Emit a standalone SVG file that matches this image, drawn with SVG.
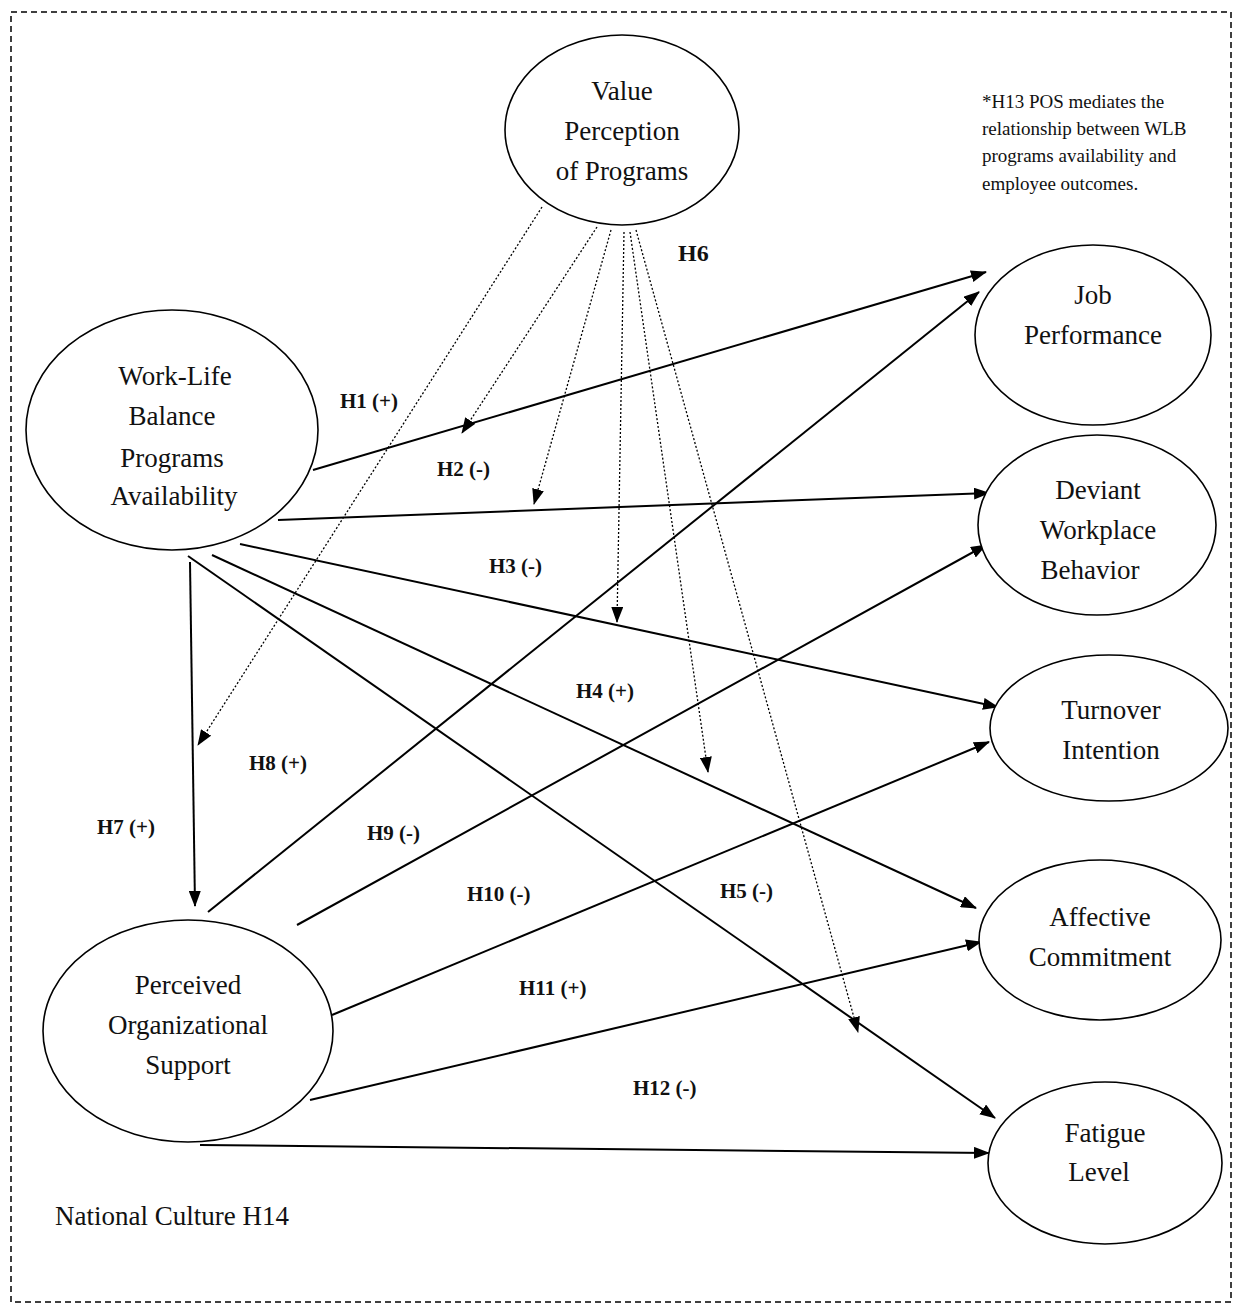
<svg xmlns="http://www.w3.org/2000/svg" width="1233" height="1304" viewBox="0 0 1233 1304">
<defs>
<marker id="ah" viewBox="0 0 16 12" refX="15" refY="6" markerWidth="16" markerHeight="12" markerUnits="userSpaceOnUse" orient="auto"><path d="M0,0 L16,6 L0,12 z" fill="#000"/></marker>
<style>
.node ellipse{fill:#fff;stroke:#000;stroke-width:1.6}
.nt{font-family:"Liberation Serif","Times New Roman",serif;font-size:27px;text-anchor:middle;fill:#111}
.lb{font-family:"Liberation Serif","Times New Roman",serif;font-size:21px;font-weight:bold;fill:#111}
.sol{stroke:#000;stroke-width:2;fill:none;marker-end:url(#ah)}
.dot{stroke:#000;stroke-width:1.3;fill:none;stroke-dasharray:2,2;marker-end:url(#ah)}
.note{font-family:"Liberation Serif","Times New Roman",serif;font-size:19px;fill:#111}
</style>
</defs>
<rect x="0" y="0" width="1233" height="1304" fill="#fff"/>
<rect x="11" y="12" width="1220" height="1290" fill="none" stroke="#000" stroke-width="1.5" stroke-dasharray="6,4"/>

<g id="connectors">
<line class="sol" x1="313" y1="470" x2="986" y2="272"/>
<line class="sol" x1="278" y1="520" x2="989" y2="493"/>
<line class="sol" x1="240" y1="544" x2="998" y2="707"/>
<line class="sol" x1="212" y1="555" x2="976" y2="908"/>
<line class="sol" x1="188" y1="556" x2="995" y2="1118"/>
<line class="sol" x1="190" y1="562" x2="195" y2="906"/>
<line class="sol" x1="208" y1="912" x2="979" y2="292"/>
<line class="sol" x1="297" y1="925" x2="986" y2="545"/>
<line class="sol" x1="332" y1="1015" x2="989" y2="742"/>
<line class="sol" x1="310" y1="1100" x2="981" y2="942"/>
<line class="sol" x1="200" y1="1145" x2="989" y2="1153"/>
<line class="dot" x1="542" y1="207" x2="198" y2="745"/>
<line class="dot" x1="597" y1="227" x2="462" y2="433"/>
<line class="dot" x1="611" y1="230" x2="534" y2="504"/>
<line class="dot" x1="624" y1="232" x2="617" y2="622"/>
<line class="dot" x1="630" y1="232" x2="708" y2="772"/>
<line class="dot" x1="636" y1="230" x2="858" y2="1032"/>
</g>

<g id="value-perception" class="node">
<ellipse cx="622" cy="130" rx="117" ry="95"/>
<text class="nt" x="622" y="100">Value</text>
<text class="nt" x="622" y="140">Perception</text>
<text class="nt" x="622" y="180">of Programs</text>
</g>
<g id="wlb" class="node">
<ellipse cx="172" cy="430" rx="146" ry="120"/>
<text class="nt" x="175" y="385">Work-Life</text>
<text class="nt" x="172" y="425">Balance</text>
<text class="nt" x="172" y="467">Programs</text>
<text class="nt" x="174" y="505">Availability</text>
</g>
<g id="pos" class="node">
<ellipse cx="188" cy="1031" rx="145" ry="111"/>
<text class="nt" x="188" y="994">Perceived</text>
<text class="nt" x="188" y="1034">Organizational</text>
<text class="nt" x="188" y="1074">Support</text>
</g>
<g id="job" class="node">
<ellipse cx="1093" cy="335" rx="118" ry="90"/>
<text class="nt" x="1093" y="304">Job</text>
<text class="nt" x="1093" y="344">Performance</text>
</g>
<g id="deviant" class="node">
<ellipse cx="1097" cy="525" rx="119" ry="90"/>
<text class="nt" x="1098" y="499">Deviant</text>
<text class="nt" x="1098" y="539">Workplace</text>
<text class="nt" x="1090" y="579">Behavior</text>
</g>
<g id="turnover" class="node">
<ellipse cx="1109" cy="728" rx="119" ry="73"/>
<text class="nt" x="1111" y="719">Turnover</text>
<text class="nt" x="1111" y="759">Intention</text>
</g>
<g id="affective" class="node">
<ellipse cx="1100" cy="940" rx="121" ry="80"/>
<text class="nt" x="1100" y="926">Affective</text>
<text class="nt" x="1100" y="966">Commitment</text>
</g>
<g id="fatigue" class="node">
<ellipse cx="1105" cy="1163" rx="117" ry="81"/>
<text class="nt" x="1105" y="1142">Fatigue</text>
<text class="nt" x="1099" y="1181">Level</text>
</g>

<g id="labels">
<text class="lb" x="678" y="261" style="font-size:24px">H6</text>
<text class="lb" x="340" y="408">H1 (+)</text>
<text class="lb" x="437" y="476">H2 (-)</text>
<text class="lb" x="489" y="573">H3 (-)</text>
<text class="lb" x="576" y="698">H4 (+)</text>
<text class="lb" x="720" y="898">H5 (-)</text>
<text class="lb" x="97" y="834">H7 (+)</text>
<text class="lb" x="249" y="770">H8 (+)</text>
<text class="lb" x="367" y="840">H9 (-)</text>
<text class="lb" x="467" y="901">H10 (-)</text>
<text class="lb" x="519" y="995">H11 (+)</text>
<text class="lb" x="633" y="1095">H12 (-)</text>
</g>
<g id="note">
<text class="note" x="982" y="108">*H13 POS mediates the</text>
<text class="note" x="982" y="135">relationship between WLB</text>
<text class="note" x="982" y="162">programs availability and</text>
<text class="note" x="982" y="190">employee outcomes.</text>
</g>
<text x="55" y="1225" style="font-family:'Liberation Serif','Times New Roman',serif;font-size:27px;fill:#111">National Culture H14</text>
</svg>
